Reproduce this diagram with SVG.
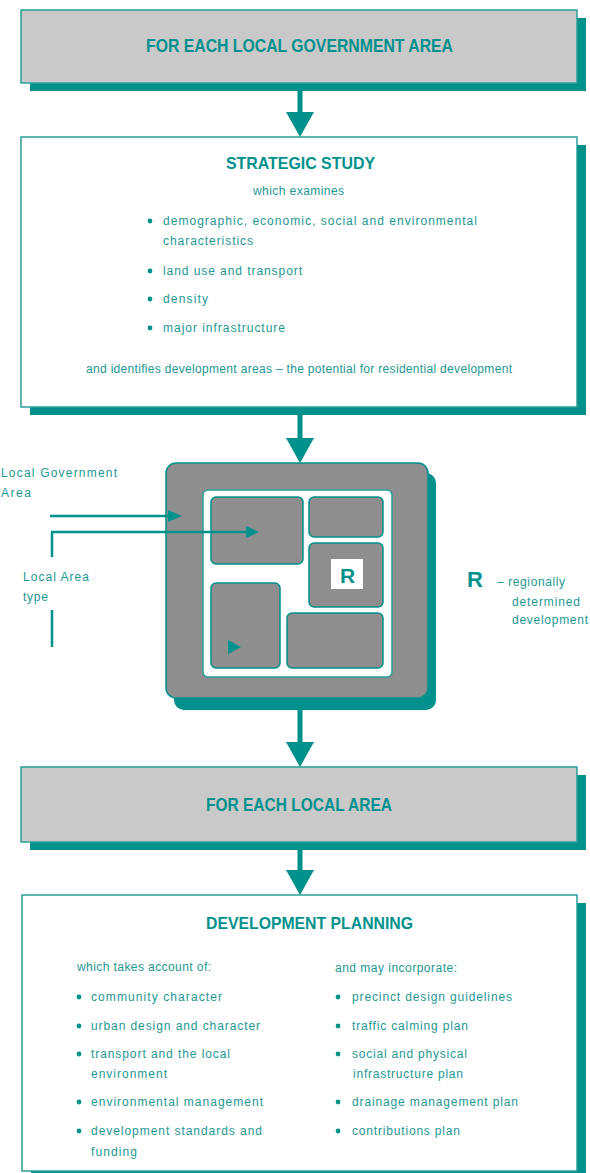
<svg xmlns="http://www.w3.org/2000/svg" width="590" height="1173" viewBox="0 0 590 1173">
  <style>
    .shadow { fill: #00918d; }
    .band { fill: #c9c9c9; stroke: #2a9f9b; stroke-width: 1.5; }
    .panel { fill: #ffffff; stroke: #2a9f9b; stroke-width: 1.5; }
    .title { font-family: "Liberation Sans", "DejaVu Sans", sans-serif; font-weight: bold; fill: #00918d; }
    .body { font-family: "Liberation Sans", "DejaVu Sans", sans-serif; font-size: 12px; fill: #1d9793; }
    .bullet { fill: #00918d; }
    .conn { stroke: #00918d; fill: none; }
    .head { fill: #00918d; }
    .block { fill: #8e8e8e; stroke: #00918d; stroke-width: 1.5; }
  </style>

  <!-- band: local government area -->
  <g id="lga-band">
    <rect class="shadow" x="30" y="18" width="556" height="73"/>
    <rect class="band" x="21" y="10" width="556" height="73"/>
    <text class="title" x="146" y="52" font-size="19" textLength="307" lengthAdjust="spacingAndGlyphs">FOR EACH LOCAL GOVERNMENT AREA</text>
  </g>

  <!-- strategic study panel -->
  <g id="strategic-study">
    <rect class="shadow" x="30" y="145" width="556" height="270"/>
    <rect class="panel" x="21" y="137" width="556" height="270"/>
    <text class="title" x="226" y="169" font-size="17" textLength="149" lengthAdjust="spacingAndGlyphs">STRATEGIC STUDY</text>
    <text class="body" x="253" y="195" textLength="91">which examines</text>
    <circle class="bullet" cx="150" cy="221" r="2.4"/>
    <text class="body" x="163" y="225" textLength="314">demographic, economic, social and environmental</text>
    <text class="body" x="163" y="245" textLength="90">characteristics</text>
    <circle class="bullet" cx="150" cy="271" r="2.4"/>
    <text class="body" x="163" y="275" textLength="139">land use and transport</text>
    <circle class="bullet" cx="150" cy="299" r="2.4"/>
    <text class="body" x="163" y="303" textLength="45">density</text>
    <circle class="bullet" cx="150" cy="328" r="2.4"/>
    <text class="body" x="163" y="332" textLength="122">major infrastructure</text>
    <text class="body" x="86" y="373" textLength="426">and identifies development areas – the potential for residential development</text>
  </g>

  <!-- area plan: local areas inside the government area -->
  <g id="area-plan">
    <rect class="shadow" x="174" y="473" width="262" height="237" rx="10"/>
    <rect class="block" x="166" y="463" width="262" height="235" rx="10"/>
    <rect class="panel" x="203" y="490" width="189" height="187" rx="5"/>
    <rect class="block" x="211" y="497" width="92" height="67" rx="5"/>
    <rect class="block" x="309" y="497" width="74" height="40" rx="5"/>
    <rect class="block" x="309" y="543" width="74" height="64" rx="5"/>
    <rect class="block" x="211" y="583" width="69" height="85" rx="5"/>
    <rect class="block" x="287" y="613" width="96" height="55" rx="5"/>
    <rect x="331" y="559" width="32" height="30" fill="#ffffff"/>
    <text class="title" x="347.5" y="583" font-size="21" text-anchor="middle">R</text>
  </g>

  <!-- labels beside the plan -->
  <g id="label-lga">
    <text class="body" x="1" y="477" textLength="116">Local Government</text>
    <text class="body" x="1" y="497" textLength="30">Area</text>
  </g>
  <g id="label-local-area">
    <text class="body" x="23" y="581" textLength="66">Local Area</text>
    <text class="body" x="23" y="601" textLength="25">type</text>
  </g>
  <g id="legend-r">
    <text class="title" x="467" y="587" font-size="22">R</text>
    <text class="body" x="497" y="586" textLength="68">– regionally</text>
    <text class="body" x="512" y="606" textLength="68">determined</text>
    <text class="body" x="512" y="624" textLength="76">development</text>
  </g>

  <!-- band: local area -->
  <g id="local-area-band">
    <rect class="shadow" x="30" y="775" width="556" height="75"/>
    <rect class="band" x="21" y="767" width="556" height="75"/>
    <text class="title" x="206" y="811" font-size="18" textLength="186" lengthAdjust="spacingAndGlyphs">FOR EACH LOCAL AREA</text>
  </g>

  <!-- development planning panel -->
  <g id="development-planning">
    <rect class="shadow" x="31" y="903" width="555" height="276"/>
    <rect class="panel" x="22" y="895" width="555" height="276"/>
    <text class="title" x="206" y="929" font-size="17" textLength="207" lengthAdjust="spacingAndGlyphs">DEVELOPMENT PLANNING</text>

    <text class="body" x="77" y="971" textLength="134">which takes account of:</text>
    <circle class="bullet" cx="79" cy="997" r="2.4"/>
    <text class="body" x="91" y="1001" textLength="131">community character</text>
    <circle class="bullet" cx="79" cy="1026" r="2.4"/>
    <text class="body" x="91" y="1030" textLength="169">urban design and character</text>
    <circle class="bullet" cx="79" cy="1054" r="2.4"/>
    <text class="body" x="91" y="1058" textLength="139">transport and the local</text>
    <text class="body" x="91" y="1078" textLength="76">environment</text>
    <circle class="bullet" cx="79" cy="1102" r="2.4"/>
    <text class="body" x="91" y="1106" textLength="172">environmental management</text>
    <circle class="bullet" cx="79" cy="1131" r="2.4"/>
    <text class="body" x="91" y="1135" textLength="171">development standards and</text>
    <text class="body" x="91" y="1156" textLength="46">funding</text>

    <text class="body" x="335" y="972" textLength="122">and may incorporate:</text>
    <circle class="bullet" cx="338" cy="997" r="2.4"/>
    <text class="body" x="352" y="1001" textLength="160">precinct design guidelines</text>
    <circle class="bullet" cx="338" cy="1026" r="2.4"/>
    <text class="body" x="352" y="1030" textLength="116">traffic calming plan</text>
    <circle class="bullet" cx="338" cy="1054" r="2.4"/>
    <text class="body" x="352" y="1058" textLength="115">social and physical</text>
    <text class="body" x="353" y="1078" textLength="110">infrastructure plan</text>
    <circle class="bullet" cx="338" cy="1102" r="2.4"/>
    <text class="body" x="352" y="1106" textLength="166">drainage management plan</text>
    <circle class="bullet" cx="338" cy="1131" r="2.4"/>
    <text class="body" x="352" y="1135" textLength="108">contributions plan</text>
  </g>

  <!-- vertical flow arrows and the pointers into the area plan, drawn on top -->
  <g id="connectors">
    <g class="conn" stroke-width="5">
      <line x1="300" y1="91" x2="300" y2="114"/>
      <line x1="300" y1="415" x2="300" y2="440"/>
      <line x1="300" y1="710" x2="300" y2="744"/>
      <line x1="300" y1="850" x2="300" y2="872"/>
    </g>
    <polygon class="head" points="286,112 314,112 300,137"/>
    <polygon class="head" points="286,438 314,438 300,463"/>
    <polygon class="head" points="286,742 314,742 300,767"/>
    <polygon class="head" points="286,870 314,870 300,895"/>

    <g class="conn" stroke-width="2.5">
      <line x1="50" y1="516" x2="170" y2="516"/>
      <path d="M52 557 V532 H248"/>
      <line x1="52" y1="610" x2="52" y2="647"/>
    </g>
    <polygon class="head" points="168,510 182,516 168,522"/>
    <polygon class="head" points="246,526 259,532 246,538"/>
    <polygon class="head" points="228,640 241,647 228,654"/>
  </g>
</svg>
